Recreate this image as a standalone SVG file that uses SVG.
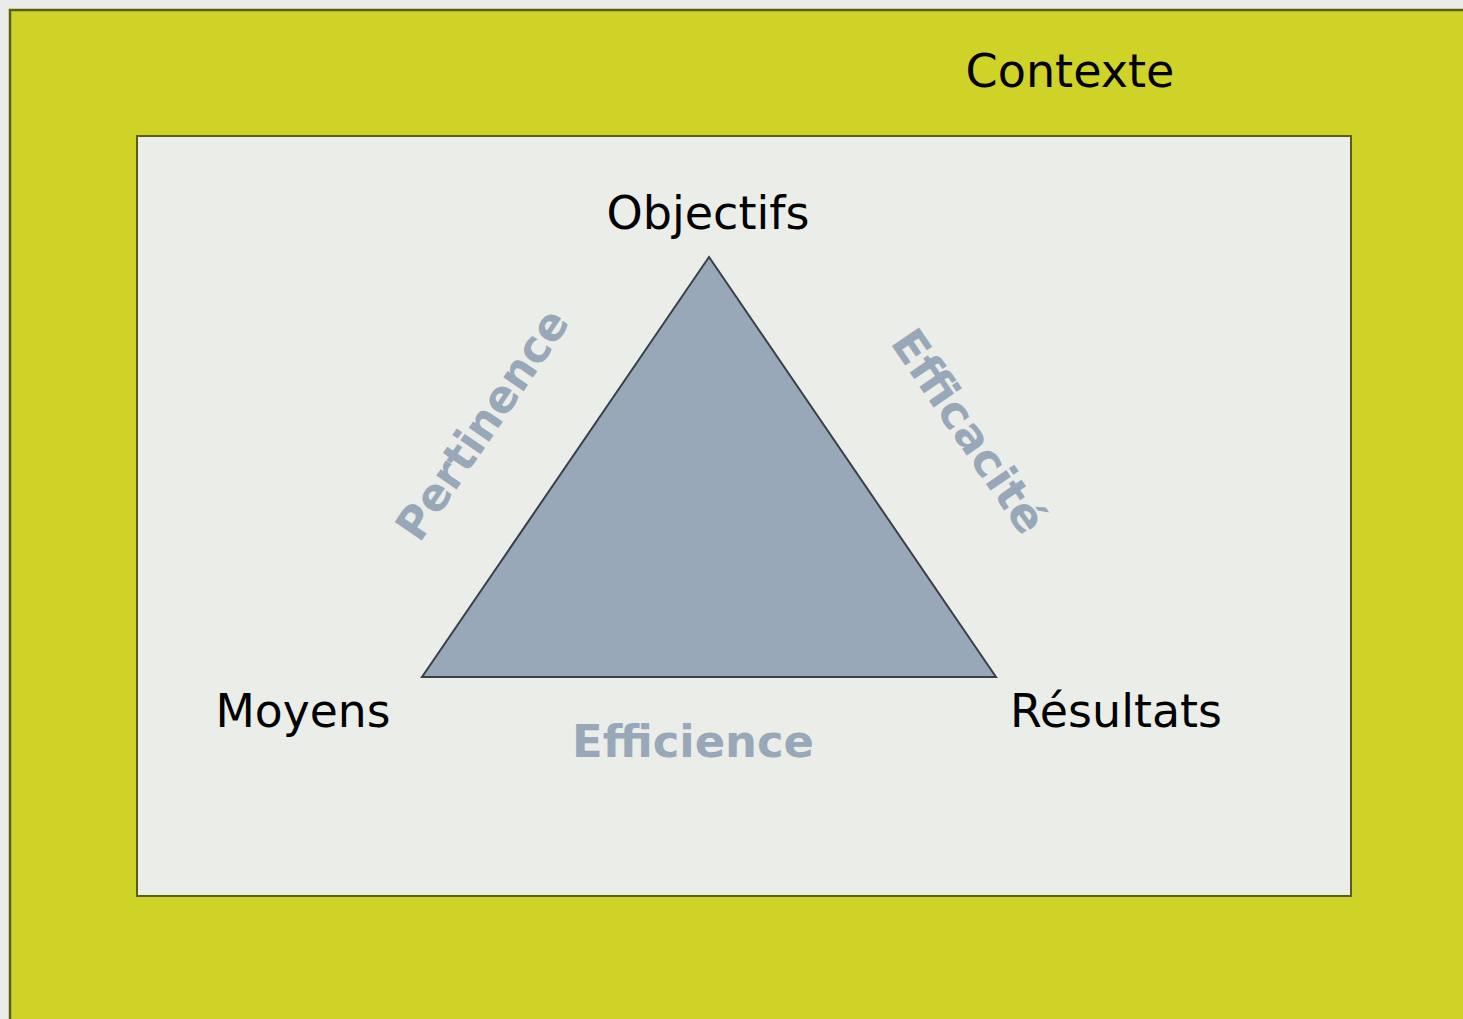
<svg xmlns="http://www.w3.org/2000/svg" width="1463" height="1019" viewBox="0 0 1463 1019">
<style>
.lbl{font-family:"DejaVu Sans","Verdana",sans-serif;font-size:46px;fill:#000}
.side{font-family:"DejaVu Sans","Verdana",sans-serif;font-size:45px;font-weight:bold;fill:#98a8b8}
</style>
<rect x="0" y="0" width="1463" height="1019" fill="#ebece9"/>
<g id="contexte">
<rect x="10" y="10" width="1470" height="1030" fill="#cfd227" stroke="#5b5f12" stroke-width="2.5"/>
<text class="lbl" x="1070" y="87" text-anchor="middle" textLength="209" lengthAdjust="spacingAndGlyphs">Contexte</text>
</g>
<g id="cadre">
<rect x="137" y="136" width="1214" height="760" fill="#ebede9" stroke="#5b5f12" stroke-width="2"/>
</g>
<g id="triangle">
<polygon points="709,257 422,677 996,677" fill="#98a8b8" stroke="#3a4048" stroke-width="2"/>
</g>
<g id="objectifs"><text class="lbl" x="708" y="229" text-anchor="middle" textLength="203" lengthAdjust="spacingAndGlyphs">Objectifs</text></g>
<g id="moyens"><text class="lbl" x="303" y="727" text-anchor="middle" textLength="175" lengthAdjust="spacingAndGlyphs">Moyens</text></g>
<g id="resultats"><text class="lbl" x="1116" y="727" text-anchor="middle" textLength="212" lengthAdjust="spacingAndGlyphs">Résultats</text></g>
<g id="connectors">
<text class="side" x="693" y="757" text-anchor="middle" textLength="242" lengthAdjust="spacingAndGlyphs">Efficience</text>
<text class="side" transform="translate(495,433) rotate(-55.65)" text-anchor="middle" textLength="268" lengthAdjust="spacingAndGlyphs">Pertinence</text>
<text class="side" transform="translate(956,440) rotate(55.65)" text-anchor="middle" textLength="236" lengthAdjust="spacingAndGlyphs">Efficacité</text>
</g>
</svg>
